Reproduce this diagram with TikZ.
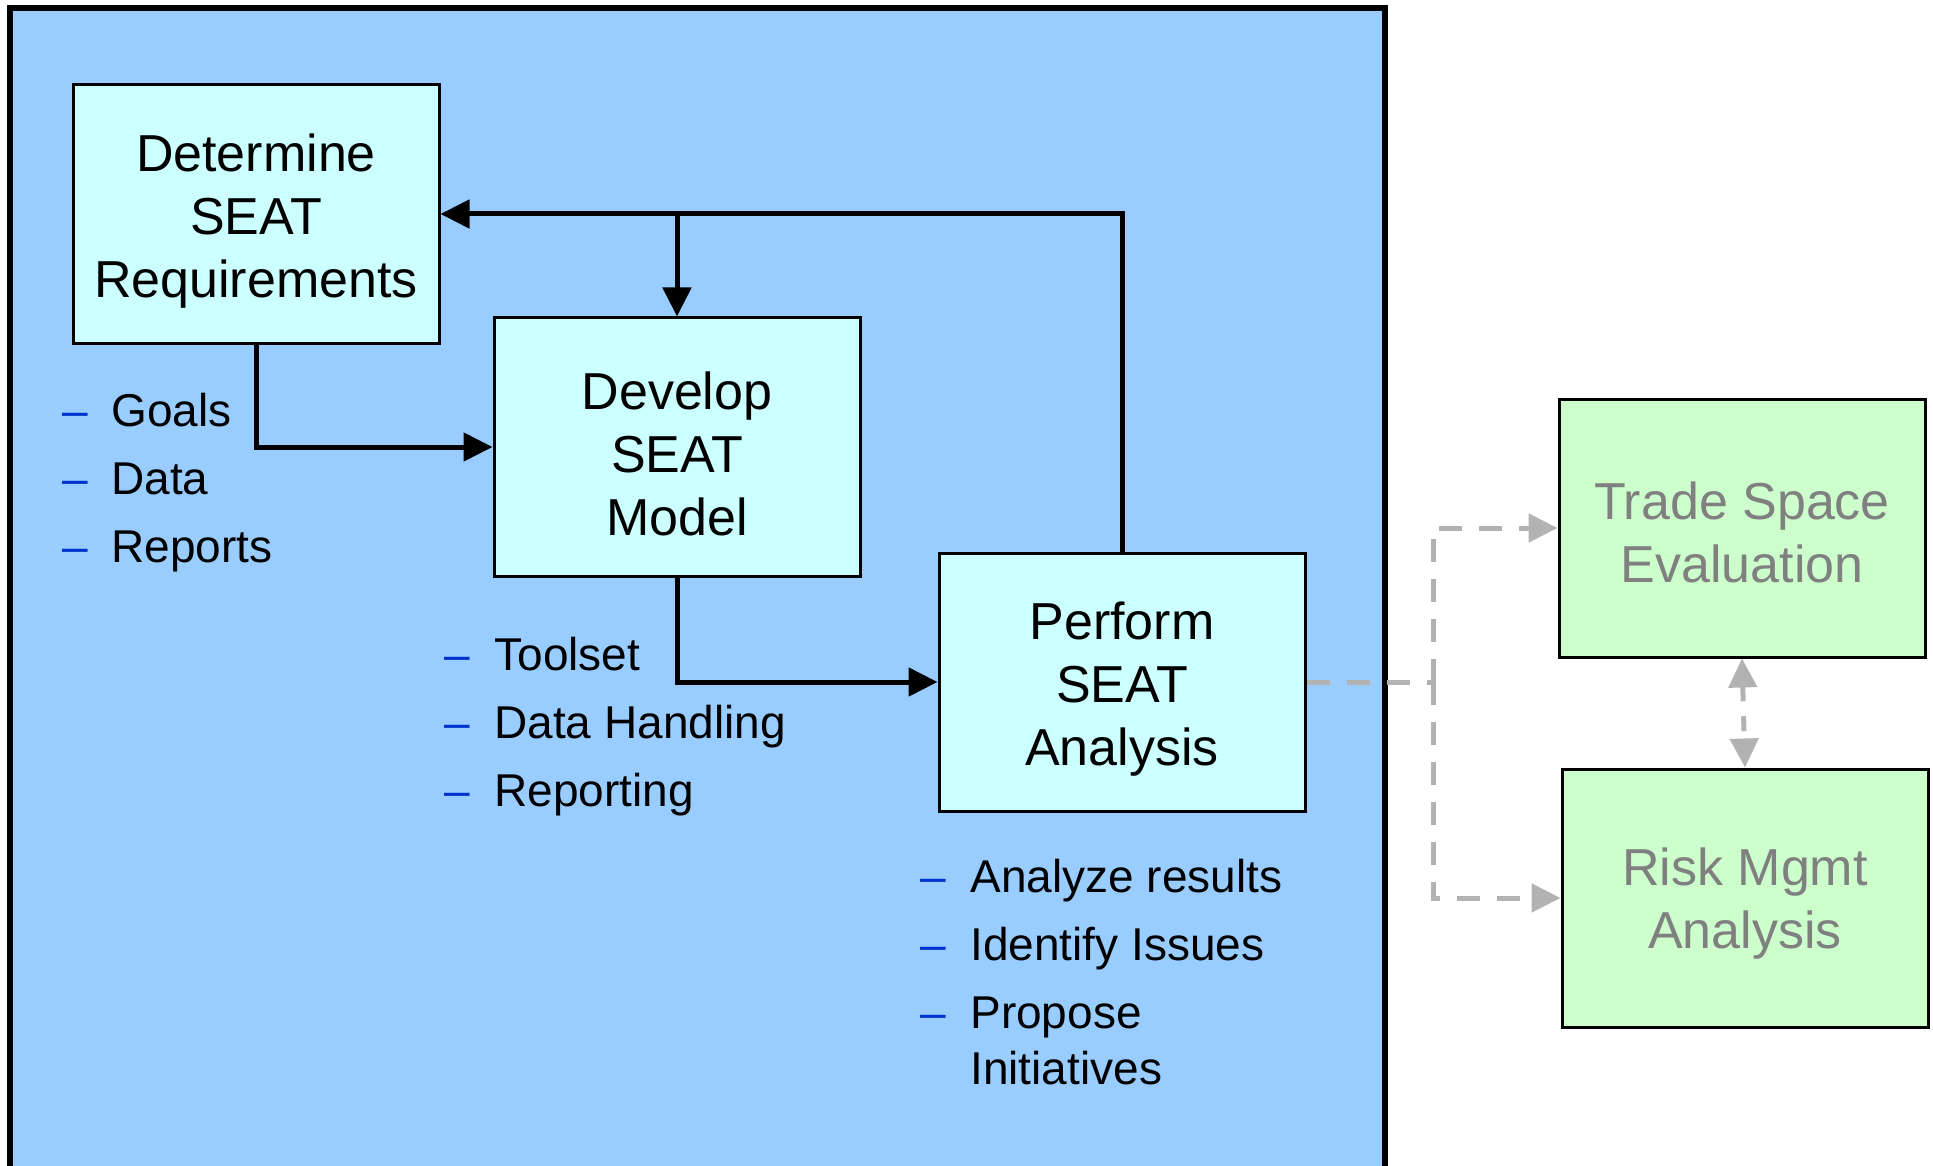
\documentclass[tikz,border=0pt]{standalone}
\usepackage{fontspec}
\setmainfont{Liberation Sans}
\usetikzlibrary{arrows.meta}
\definecolor{panelblue}{RGB}{153,204,255}
\definecolor{boxcyan}{RGB}{204,255,255}
\definecolor{boxgreen}{RGB}{204,255,204}
\definecolor{dashgray}{RGB}{178,178,178}
\definecolor{txtgray}{RGB}{128,128,128}
\definecolor{bulblue}{RGB}{0,51,204}
\tikzset{
  procbox/.style={draw=black, line width=1.5pt, fill=boxcyan, minimum width=183pt, minimum height=129pt, inner sep=0pt},
  sidebox/.style={draw=black, line width=1.5pt, fill=boxgreen, minimum width=183pt, minimum height=129pt, inner sep=0pt},
  boxtext/.style={inner sep=0pt, align=center, font=\fontsize{26}{31.5}\selectfont},
  sidetext/.style={inner sep=0pt, align=center, text=txtgray, font=\fontsize{26}{31.5}\selectfont},
  flow/.style={line width=2.5pt, -{Triangle[length=14.5pt,width=14pt]}},
  grayflow/.style={draw=dashgray, line width=2.5pt, dash pattern=on 11.5pt off 8.5pt, -{Triangle[length=14.5pt,width=14pt]}},
  grayline/.style={draw=dashgray, line width=2.5pt, dash pattern=on 11.5pt off 8.5pt},
  bdash/.style={anchor=base west, inner sep=0pt, text=bulblue, font=\fontsize{23}{34}\selectfont},
  btext/.style={anchor=base west, inner sep=0pt, font=\fontsize{23}{34}\selectfont}
}
\begin{document}
\begin{tikzpicture}[x=0.5pt,y=-0.5pt]
\useasboundingbox (0,0) rectangle (1933,1166);
\clip (0,0) rectangle (1933,1166);
% panel
\fill[panelblue] (10,8) rectangle (1385,1180);
\draw[line width=3pt] (10,1180) -- (10,8) -- (1385,8) -- (1385,1180);
% process boxes
\node[procbox] (req) at (256,214) {};
\node[procbox] (mod) at (677,447) {};
\node[procbox] (ana) at (1122,682) {};
\node[sidebox] (trade) at (1742,528) {};
\node[sidebox] (risk) at (1745,898) {};
\node[boxtext] (reqt) at ([yshift=-3.5pt]req.center) {Determine\\SEAT\\Requirements};
\node[boxtext] (modt) at ([yshift=-3.5pt]mod.center) {Develop\\SEAT\\Model};
\node[boxtext] (anat) at ([yshift=-3.5pt]ana.center) {Perform\\SEAT\\Analysis};
\node[sidetext] (tradet) at ([yshift=-2pt]trade.center) {Trade Space\\Evaluation};
\node[sidetext] (riskt) at ([yshift=-3pt]risk.center) {Risk Mgmt\\Analysis};
% helper coordinates
\coordinate (c1) at (256,447);
\coordinate (c2) at (1122,214);
\coordinate (c3) at (677,214);
\coordinate (c4) at (677,682);
\coordinate (g1) at (1433,682);
\coordinate (g2) at (1433,528);
\coordinate (g3) at (1433,898);
% black connectors
\draw[flow] (req.south) -- (c1) -- (mod.west);
\draw[flow] (ana.north) -- (c2) -- (req.east);
\draw[flow] (c3) -- (mod.north);
\draw[flow] (mod.south) -- (c4) -- (ana.west);
% gray dashed connectors
\draw[grayline] (ana.east) -- (g1);
\draw[grayflow] (g1) -- (g2) -- (trade.west);
\draw[grayflow] (g1) -- (g3) -- (risk.west);
\draw[grayline, {Triangle[length=14.5pt,width=14pt]}-{Triangle[length=14.5pt,width=14pt]}, dash pattern=on 7.5pt off 7.5pt] (trade.south) -- (risk.north);
% bullet lists
\node[bdash] (d1) at (62,426) {–}; \node[btext] (t1) at (111,426) {Goals};
\node[bdash] (d2) at (62,494) {–}; \node[btext] (t2) at (111,494) {Data};
\node[bdash] (d3) at (62,562) {–}; \node[btext] (t3) at (111,562) {Reports};
\node[bdash] (d4) at (444,670) {–}; \node[btext] (t4) at (494,670) {Toolset};
\node[bdash] (d5) at (444,738) {–}; \node[btext] (t5) at (494,738) {Data Handling};
\node[bdash] (d6) at (444,806) {–}; \node[btext] (t6) at (494,806) {Reporting};
\node[bdash] (d7) at (920,892) {–}; \node[btext] (t7) at (970,892) {Analyze results};
\node[bdash] (d8) at (920,960) {–}; \node[btext] (t8) at (970,960) {Identify Issues};
\node[bdash] (d9) at (920,1028) {–}; \node[btext] (t9) at (970,1028) {Propose};
\node[btext] (t10) at (970,1084) {Initiatives};
\end{tikzpicture}
\end{document}
